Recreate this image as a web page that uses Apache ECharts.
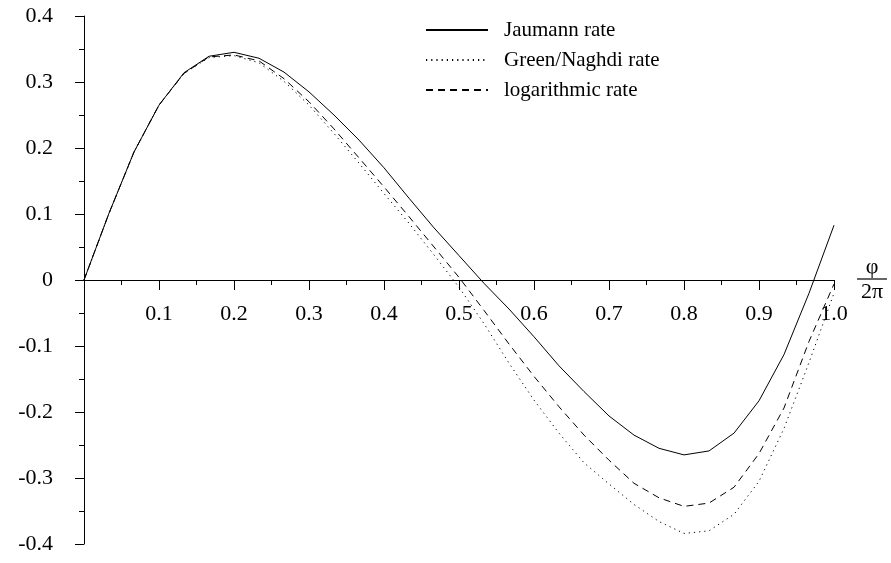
<!DOCTYPE html>
<html>
<head>
<meta charset="utf-8">
<script src="https://cdn.jsdelivr.net/npm/echarts@6/dist/echarts.min.js"></script>
<style>html,body{margin:0;padding:0;background:#fff}#c{width:891px;height:563px}</style>
</head>
<body>
<div id="c"></div>
<script>
// sample positions phi/(2*pi)
const xValues = [0, 0.0333, 0.0667, 0.1, 0.1333, 0.1667, 0.2, 0.2333, 0.2667, 0.3, 0.3333,
  0.3667, 0.4, 0.4333, 0.4667, 0.5, 0.5333, 0.5667, 0.6, 0.6333, 0.6667,
  0.7, 0.7333, 0.7667, 0.8, 0.8333, 0.8667, 0.9, 0.9333, 0.9667, 1.0];

const jaumann = [0, 0.101, 0.194, 0.265, 0.314, 0.339, 0.345, 0.336, 0.315, 0.285, 0.250,
  0.212, 0.170, 0.124, 0.079, 0.037, -0.005, -0.044, -0.086, -0.130, -0.169,
  -0.206, -0.235, -0.255, -0.265, -0.259, -0.232, -0.183, -0.113, -0.020, 0.083];

const greenNaghdi = [0, 0.101, 0.194, 0.265, 0.313, 0.337, 0.340, 0.329, 0.301, 0.265, 0.222,
  0.177, 0.131, 0.086, 0.038, -0.011, -0.066, -0.126, -0.182, -0.232, -0.277,
  -0.309, -0.340, -0.366, -0.384, -0.380, -0.355, -0.305, -0.225, -0.125, -0.020];

const logarithmic = [0, 0.101, 0.194, 0.265, 0.313, 0.338, 0.341, 0.332, 0.305, 0.270, 0.229,
  0.185, 0.141, 0.096, 0.050, 0.004, -0.046, -0.097, -0.146, -0.192, -0.235,
  -0.273, -0.308, -0.330, -0.343, -0.338, -0.314, -0.263, -0.194, -0.093, -0.006];

const seriesNames = ['Jaumann rate', 'Green/Naghdi rate', 'logarithmic rate'];
const xTickLabels = ['0.1','0.2','0.3','0.4','0.5','0.6','0.7','0.8','0.9','1.0'];
const yTickLabels = ['-0.4','-0.3','-0.2','-0.1','0','0.1','0.2','0.3','0.4'];

const pairs = ys => xValues.map((x, i) => [x, ys[i]]);
const FONT = 'Liberation Serif';

const chart = echarts.init(document.getElementById('c'), null, {renderer: 'canvas'});
chart.setOption({
  animation: false,
  backgroundColor: '#fff',
  textStyle: {fontFamily: FONT, color: '#000'},
  grid: {left: 84, right: 57, top: 16, bottom: 19, containLabel: false, outerBoundsMode: 'none'},
  legend: {
    orient: 'vertical',
    left: 420,
    top: 14,
    itemWidth: 62,
    itemHeight: 14,
    itemGap: 8,
    itemStyle: {opacity: 0},
    textStyle: {fontFamily: FONT, fontSize: 21, color: '#000', lineHeight: 22, padding: [0, 0, 0, 11]},
    data: seriesNames
  },
  xAxis: {
    type: 'value',
    min: 0,
    max: 1,
    interval: 0.1,
    name: '{a|φ}\n{l|}\n{b|2π}',
    nameLocation: 'end',
    nameGap: 23,
    nameTextStyle: {
      align: 'left',
      verticalAlign: 'middle',
      rich: {
        a: {fontFamily: FONT, fontSize: 22, color: '#000', align: 'center', width: 30, lineHeight: 20},
        l: {width: 30, height: 2, backgroundColor: '#666', lineHeight: 4},
        b: {fontFamily: FONT, fontSize: 22, color: '#000', align: 'center', width: 30, lineHeight: 22}
      }
    },
    axisLine: {onZero: true, lineStyle: {color: '#000', width: 1}},
    axisTick: {show: true, length: 10, lineStyle: {color: '#000'}},
    minorTick: {show: true, splitNumber: 2, length: 5, lineStyle: {color: '#000'}},
    splitLine: {show: false},
    axisLabel: {
      margin: -241,
      fontFamily: FONT, fontSize: 22, color: '#000',
      formatter: v => {
        const k = Math.round(v * 10);
        return k === 0 ? '' : xTickLabels[k - 1];
      }
    }
  },
  yAxis: {
    type: 'value',
    min: -0.4,
    max: 0.4,
    interval: 0.1,
    axisLine: {onZero: false, lineStyle: {color: '#000', width: 1}},
    axisTick: {show: true, length: 9, lineStyle: {color: '#000'}},
    minorTick: {show: true, splitNumber: 2, length: 5, lineStyle: {color: '#000'}},
    splitLine: {show: false},
    axisLabel: {
      margin: 31,
      padding: [6, 0, 0, 0],
      fontFamily: FONT, fontSize: 22, color: '#000',
      formatter: v => yTickLabels[Math.round(v * 10) + 4]
    }
  },
  series: [
    {name: seriesNames[0], type: 'line', symbol: 'none', data: pairs(jaumann),
     lineStyle: {color: '#000', width: 1, type: 'solid'}, itemStyle: {color: '#000'}},
    {name: seriesNames[1], type: 'line', symbol: 'none', data: pairs(greenNaghdi),
     lineStyle: {color: '#000', width: 1, type: [1.2, 4]}, itemStyle: {color: '#000'}},
    {name: seriesNames[2], type: 'line', symbol: 'none', data: pairs(logarithmic),
     lineStyle: {color: '#000', width: 1, type: [7, 5]}, itemStyle: {color: '#000'}}
  ]
});
</script>
</body>
</html>
